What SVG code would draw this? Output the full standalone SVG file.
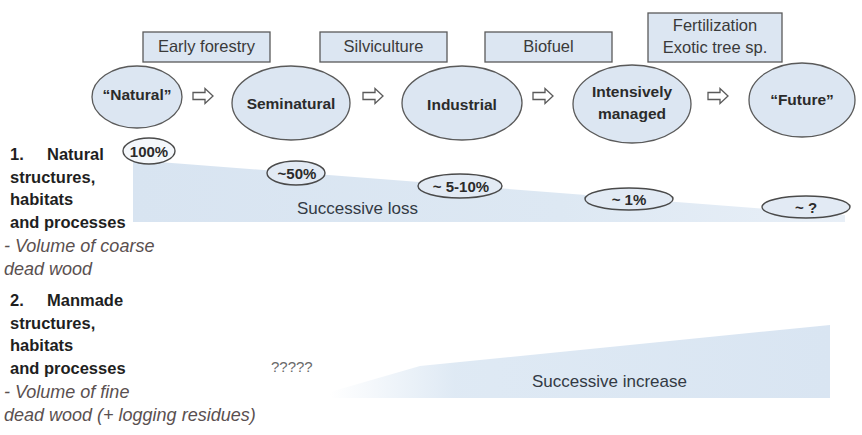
<svg xmlns="http://www.w3.org/2000/svg" width="862" height="435" viewBox="0 0 862 435">
<defs>
<style>
.box{fill:#dce6f2;stroke:#5a5a5a;stroke-width:1.3}
.ell{fill:#dce6f2;stroke:#5a5a5a;stroke-width:1.3}
.pct{fill:#e2eaf4;stroke:#4a4a4a;stroke-width:1.4}
.arr{fill:#ffffff;stroke:#5a5a5a;stroke-width:1.3;stroke-linejoin:miter}
.bt{font-family:"Liberation Sans",Arial,sans-serif;font-size:16.5px;fill:#3a3a3a;text-anchor:middle}
.nt{font-family:"Liberation Sans",Arial,sans-serif;font-size:15.5px;font-weight:bold;fill:#2b2b2b;text-anchor:middle}
.pt{font-family:"Liberation Sans",Arial,sans-serif;font-size:15px;font-weight:bold;fill:#2b2b2b;text-anchor:middle}
.lb{font-family:"Liberation Sans",Arial,sans-serif;font-size:16.5px;font-weight:bold;fill:#1f1f1f}
.li{font-family:"Liberation Sans",Arial,sans-serif;font-size:18px;font-style:italic;fill:#5a5050}
.st{font-family:"Liberation Sans",Arial,sans-serif;font-size:17px;fill:#333a44}
.q{font-family:"Liberation Sans",Arial,sans-serif;font-size:15px;fill:#6a6a6a}
</style>
<linearGradient id="lossg" gradientUnits="userSpaceOnUse" x1="133" y1="0" x2="845" y2="0">
<stop offset="0" stop-color="#d8e4f1"/>
<stop offset="0.6" stop-color="#dde8f3"/>
<stop offset="1" stop-color="#e8eff7"/>
</linearGradient>
<linearGradient id="incg" gradientUnits="userSpaceOnUse" x1="330" y1="0" x2="830" y2="0">
<stop offset="0" stop-color="#dbe7f3" stop-opacity="0"/>
<stop offset="0.25" stop-color="#dbe7f3" stop-opacity="0.9"/>
<stop offset="1" stop-color="#d9e5f2"/>
</linearGradient>
</defs>
<rect width="862" height="435" fill="#ffffff"/>

<g id="bands">
<polygon points="133,160 845,215 845,222 133,222" fill="url(#lossg)"/>
<polygon points="330,392 420,366 830,325 830,398 330,398" fill="url(#incg)"/>
</g>

<g id="box-early"><rect class="box" x="143" y="32" width="127" height="30"/><text class="bt" x="206.5" y="52">Early forestry</text></g>
<g id="box-silv"><rect class="box" x="320" y="32" width="127" height="30"/><text class="bt" x="383.5" y="52">Silviculture</text></g>
<g id="box-bio"><rect class="box" x="485" y="32" width="127" height="30"/><text class="bt" x="548.5" y="52">Biofuel</text></g>
<g id="box-fert"><rect class="box" x="648" y="13" width="134" height="49"/><text class="bt" x="715" y="31">Fertilization</text><text class="bt" x="715" y="53">Exotic tree sp.</text></g>

<g id="node-natural"><ellipse class="ell" cx="137" cy="97" rx="45" ry="31"/><text class="nt" x="137" y="100">“Natural”</text></g>
<g id="node-semi"><ellipse class="ell" cx="291" cy="103" rx="59" ry="37"/><text class="nt" x="291" y="109">Seminatural</text></g>
<g id="node-ind"><ellipse class="ell" cx="462" cy="103" rx="60" ry="37"/><text class="nt" x="462" y="110">Industrial</text></g>
<g id="node-int"><ellipse class="ell" cx="632" cy="104" rx="59" ry="39"/><text class="nt" x="632" y="97">Intensively</text><text class="nt" x="632" y="119">managed</text></g>
<g id="node-future"><ellipse class="ell" cx="802" cy="100" rx="53" ry="37"/><text class="nt" x="802" y="105">“Future”</text></g>

<g id="connectors">
<path class="arr" d="M193,92.5 h12 v-4 l8,7.5 l-8,7.5 v-4 h-12 z"/>
<path class="arr" d="M363,92.5 h12 v-4 l8,7.5 l-8,7.5 v-4 h-12 z"/>
<path class="arr" d="M533,92.5 h12 v-4 l8,7.5 l-8,7.5 v-4 h-12 z"/>
<path class="arr" d="M708,92.5 h12 v-4 l8,7.5 l-8,7.5 v-4 h-12 z"/>
</g>

<g id="pct-100"><ellipse class="pct" cx="149" cy="151" rx="26" ry="13" style="fill:#f4f7fb"/><text class="pt" x="149" y="157">100%</text></g>
<g id="pct-50"><ellipse class="pct" cx="296" cy="173" rx="29" ry="12"/><text class="pt" x="297" y="179">~50%</text></g>
<g id="pct-5"><ellipse class="pct" cx="460" cy="186" rx="42" ry="12"/><text class="pt" x="461" y="192">~ 5-10%</text></g>
<g id="pct-1"><ellipse class="pct" cx="629" cy="199" rx="44" ry="11"/><text class="pt" x="629" y="205">~ 1%</text></g>
<g id="pct-q"><ellipse class="pct" cx="806" cy="207" rx="44" ry="11"/><text class="pt" x="806" y="213">~ ?</text></g>

<g id="label-1">
<text class="lb" x="10" y="160">1.<tspan x="47">Natural</tspan></text>
<text class="lb" x="10" y="183">structures,</text>
<text class="lb" x="10" y="205">habitats</text>
<text class="lb" x="10" y="228">and processes</text>
<text class="li" x="4" y="252">- Volume of coarse</text>
<text class="li" x="4" y="275">dead wood</text>
</g>
<text class="st" x="297" y="214">Successive loss</text>

<g id="label-2">
<text class="lb" x="10" y="306">2.<tspan x="47">Manmade</tspan></text>
<text class="lb" x="10" y="329">structures,</text>
<text class="lb" x="10" y="351">habitats</text>
<text class="lb" x="10" y="374">and processes</text>
<text class="li" x="4" y="398">- Volume of fine</text>
<text class="li" x="4" y="421">dead wood (+ logging residues)</text>
</g>
<text class="q" x="271" y="372">?????</text>
<text class="st" x="532" y="387">Successive increase</text>
</svg>
